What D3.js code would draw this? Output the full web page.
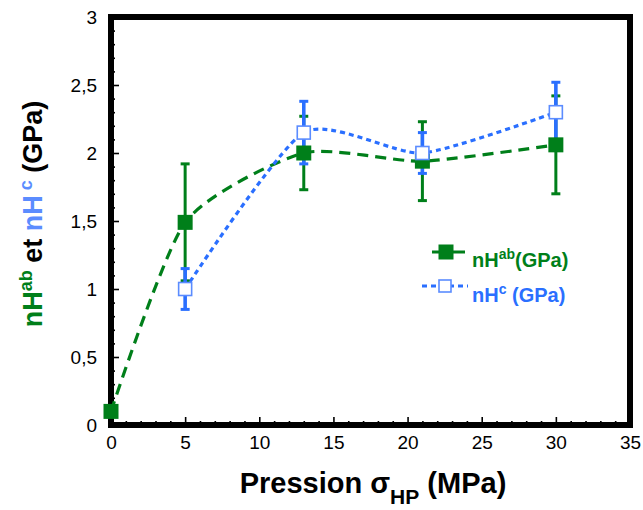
<!DOCTYPE html>
<html><head><meta charset="utf-8">
<script src="https://cdn.jsdelivr.net/npm/d3@7"></script>
<style>
html,body{margin:0;padding:0;background:#fff;}
svg{display:block;font-family:"Liberation Sans",Arial,sans-serif;}
</style></head>
<body>
<svg id="c" width="643" height="510"></svg>
<script>
// ---- data ----
const pressures = [0, 5, 13, 21, 30];
const nHab = [0.1, 1.49, 2.0, 1.94, 2.06];
const nHabErr = [0, 0.43, 0.27, 0.29, 0.36];
const pressuresC = [5, 13, 21, 30];
const nHc = [1.0, 2.15, 2.0, 2.3];
const nHcErr = [0.15, 0.23, 0.15, 0.22];
const xMajor = [0, 5, 10, 15, 20, 25, 30, 35];
const yMajor = [0, 0.5, 1, 1.5, 2, 2.5, 3];

const GREEN = "#007f1a", BLUE = "#2a6fff", BLUE_LIGHT = "#5b8cff";

const svg = d3.select("#c");
const x = d3.scaleLinear().domain([0, 35]).range([111, 630]);
const y = d3.scaleLinear().domain([0, 3]).range([425, 17]);

const fmt = d => String(d).replace(".", ",");

// minor ticks
const xMinor = d3.range(0, 35.001, 1).filter(v => v % 5 !== 0);
const yMinor = d3.range(0, 30.001, 1).map(v => v / 10).filter(v => Math.round(v * 10) % 5 !== 0);

function styleAxis(g) {
  g.select(".domain").remove();
  g.selectAll(".tick line").attr("stroke", "#000").attr("stroke-width", 1.6);
  g.selectAll(".tick text").attr("fill", "#000").style("font-size", "19px");
}
svg.append("g").attr("transform", `translate(0,${y(0)})`)
  .call(d3.axisBottom(x).tickValues(xMinor).tickSize(-4).tickFormat(""))
  .call(styleAxis);
svg.append("g").attr("transform", `translate(0,${y(0)})`)
  .call(d3.axisBottom(x).tickValues(xMajor).tickSize(-8).tickPadding(11).tickFormat(d => d))
  .call(styleAxis);
svg.append("g").attr("transform", `translate(${x(0)},0)`)
  .call(d3.axisLeft(y).tickValues(yMinor).tickSize(-4).tickFormat(""))
  .call(styleAxis);
svg.append("g").attr("transform", `translate(${x(0)},0)`)
  .call(d3.axisLeft(y).tickValues(yMajor).tickSize(-8).tickPadding(14).tickFormat(fmt))
  .call(styleAxis);

// frame
svg.append("rect")
  .attr("x", x(0)).attr("y", y(3))
  .attr("width", x(35) - x(0)).attr("height", y(0) - y(3))
  .attr("fill", "none").attr("stroke", "#000").attr("stroke-width", 6);

const ab = pressures.map((p, i) => ({p, v: nHab[i], e: nHabErr[i]}));
const cc = pressuresC.map((p, i) => ({p, v: nHc[i], e: nHcErr[i]}));

const line = d3.line().x(d => x(d.p)).y(d => y(d.v)).curve(d3.curveCardinal.tension(0.35));

svg.append("path").datum(ab).attr("d", line)
  .attr("fill", "none").attr("stroke", GREEN).attr("stroke-width", 3.2)
  .attr("stroke-dasharray", "11,7");
svg.append("path").datum(cc).attr("d", line)
  .attr("fill", "none").attr("stroke", BLUE).attr("stroke-width", 3.2)
  .attr("stroke-dasharray", "5,4");

function errBars(data, color, w) {
  const g = svg.append("g").attr("stroke", color);
  const d = data.filter(d => d.e > 0);
  g.selectAll("line.v").data(d).join("line")
    .attr("x1", d => x(d.p)).attr("x2", d => x(d.p))
    .attr("y1", d => y(d.v + d.e)).attr("y2", d => y(d.v - d.e))
    .attr("stroke-width", w);
  [1, -1].forEach(s => {
    g.selectAll(null).data(d).join("line")
      .attr("x1", d => x(d.p) - 4.5).attr("x2", d => x(d.p) + 4.5)
      .attr("y1", d => y(d.v + s * d.e)).attr("y2", d => y(d.v + s * d.e))
      .attr("stroke-width", 3);
  });
}
errBars(ab, GREEN, 3);
errBars(cc, BLUE, 3.6);

svg.append("g").selectAll("rect").data(ab).join("rect")
  .attr("x", d => x(d.p) - 7.5).attr("y", d => y(d.v) - 7.5)
  .attr("width", 15).attr("height", 15).attr("fill", GREEN);
svg.append("g").selectAll("rect").data(cc).join("rect")
  .attr("x", d => x(d.p) - 6.5).attr("y", d => y(d.v) - 6.5)
  .attr("width", 13).attr("height", 13).attr("fill", "#fff")
  .attr("stroke", BLUE_LIGHT).attr("stroke-width", 1.6);

// legend
const lg = svg.append("g");
lg.append("line").attr("x1", 432).attr("x2", 465).attr("y1", 252).attr("y2", 252)
  .attr("stroke", GREEN).attr("stroke-width", 3.2);
lg.append("rect").attr("x", 438.5).attr("y", 244.5).attr("width", 15).attr("height", 15).attr("fill", GREEN);
const t1 = lg.append("text").attr("x", 472).attr("y", 267).attr("fill", GREEN)
  .style("font-size", "20px").style("font-weight", "bold");
t1.append("tspan").text("nH");
t1.append("tspan").attr("dy", -8).style("font-size", "14px").text("ab");
t1.append("tspan").attr("dy", 8).text("(GPa)");

lg.append("line").attr("x1", 422).attr("x2", 468).attr("y1", 286).attr("y2", 286)
  .attr("stroke", BLUE).attr("stroke-width", 3.2).attr("stroke-dasharray", "5,4");
lg.append("rect").attr("x", 439).attr("y", 280).attr("width", 12).attr("height", 12)
  .attr("fill", "#fff").attr("stroke", BLUE_LIGHT).attr("stroke-width", 1.6);
const t2 = lg.append("text").attr("x", 472).attr("y", 302).attr("fill", BLUE)
  .style("font-size", "20px").style("font-weight", "bold");
t2.append("tspan").text("nH");
t2.append("tspan").attr("dy", -8).style("font-size", "14px").text("c");
t2.append("tspan").attr("dy", 8).text(" (GPa)");

// x title
const xt = svg.append("text").attr("x", 373).attr("y", 493).attr("text-anchor", "middle")
  .attr("fill", "#000").style("font-size", "29px").style("font-weight", "bold");
xt.append("tspan").text("Pression σ");
xt.append("tspan").attr("dy", 11).style("font-size", "21px").text("HP");
xt.append("tspan").attr("dy", -11).text(" (MPa)");

// y title
const yt = svg.append("text").attr("transform", "translate(42,214) rotate(-90)")
  .attr("text-anchor", "middle").style("font-size", "27px").style("font-weight", "bold");
yt.append("tspan").attr("fill", GREEN).text("nH");
yt.append("tspan").attr("fill", GREEN).attr("dy", -10).style("font-size", "18px").text("ab");
yt.append("tspan").attr("fill", "#000").attr("dy", 10).text(" et ");
yt.append("tspan").attr("fill", BLUE_LIGHT).text("nH");
yt.append("tspan").attr("fill", BLUE_LIGHT).attr("dy", -10).style("font-size", "18px").text(" c");
yt.append("tspan").attr("fill", "#000").attr("dy", 10).text(" (GPa)");
</script>
</body></html>
